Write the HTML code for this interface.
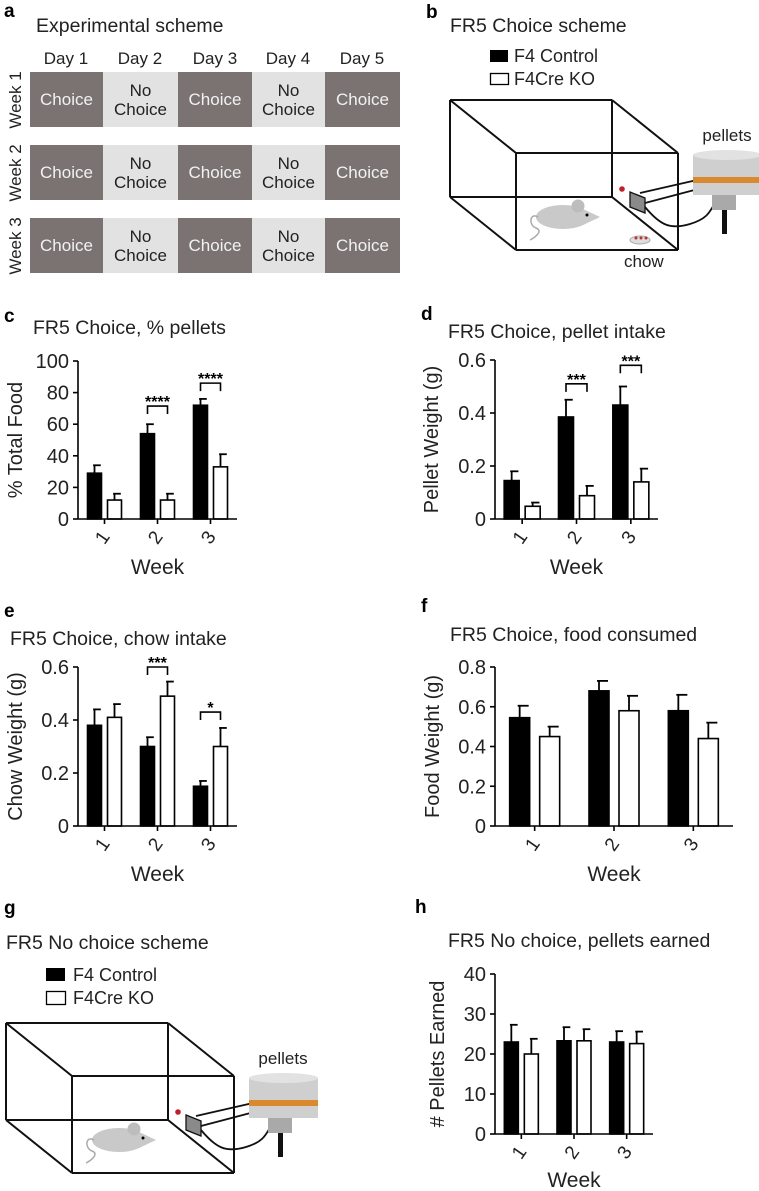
<!DOCTYPE html>
<html><head><meta charset="utf-8"><style>
html,body{margin:0;padding:0;background:#fff}
svg{display:block;font-family:"Liberation Sans",Arial,sans-serif}
</style></head><body>
<svg id="fig" width="759" height="1191" viewBox="0 0 759 1191">
<!-- Panel a -->
<g>
<text x="4" y="17" font-size="19" font-weight="bold">a</text>
<text x="36" y="32" font-size="19.5" fill="#222">Experimental scheme</text>
<g font-size="17" fill="#222" text-anchor="middle">
<text x="66" y="64">Day 1</text>
<text x="140" y="64">Day 2</text>
<text x="215" y="64">Day 3</text>
<text x="288" y="64">Day 4</text>
<text x="362" y="64">Day 5</text>
</g>
<g id="grid"></g>
</g>
<!-- Panel b -->
<g>
<text x="426" y="18" font-size="19" font-weight="bold">b</text>
<text x="450" y="32" font-size="19.5" fill="#222">FR5 Choice scheme</text>
<rect x="490" y="50" width="18" height="12" fill="#000"/>
<text x="514" y="62" font-size="18" fill="#222">F4 Control</text>
<rect x="490.5" y="73.5" width="18" height="11" fill="#fff" stroke="#000" stroke-width="1.3"/>
<text x="514" y="85" font-size="18" fill="#222">F4Cre KO</text>
<g id="boxB"></g>
<text x="624" y="267" font-size="17" fill="#222">chow</text>
</g>
<!-- Panel g -->
<g>
<text x="4" y="914" font-size="19" font-weight="bold">g</text>
<text x="6" y="949" font-size="19.5" fill="#222">FR5 No choice scheme</text>
<rect x="46" y="968" width="19" height="13" fill="#000"/>
<text x="73" y="981" font-size="18" fill="#222">F4 Control</text>
<rect x="46.5" y="991.5" width="19" height="13" fill="#fff" stroke="#000" stroke-width="1.3"/>
<text x="73" y="1004" font-size="18" fill="#222">F4Cre KO</text>
<g id="boxG"></g>
</g>
<g id="charts"></g>
</svg>
<script>
// ---- Chart data ----
const weeks = ["1","2","3"];
const cControl = [29, 54, 72];
const cControlErr = [34, 60, 76];
const cKO = [12, 12, 33];
const cKOErr = [16, 16, 41];
const cTicks = [0, 20, 40, 60, 80, 100];
const cSig = ["", "****", "****"];
const cSigLevel = [0, 71.5, 86];

const dControl = [0.145, 0.385, 0.43];
const dControlErr = [0.18, 0.45, 0.50];
const dKO = [0.048, 0.088, 0.14];
const dKOErr = [0.062, 0.125, 0.19];
const dTicks = [0, 0.2, 0.4, 0.6];
const dSig = ["", "***", "***"];
const dSigLevel = [0, 0.51, 0.58];

const eControl = [0.38, 0.30, 0.15];
const eControlErr = [0.44, 0.335, 0.17];
const eKO = [0.41, 0.49, 0.30];
const eKOErr = [0.46, 0.545, 0.37];
const eTicks = [0, 0.2, 0.4, 0.6];
const eSig = ["", "***", "*"];
const eSigLevel = [0, 0.6, 0.43];

const fControl = [0.545, 0.68, 0.58];
const fControlErr = [0.605, 0.73, 0.66];
const fKO = [0.45, 0.58, 0.44];
const fKOErr = [0.50, 0.655, 0.52];
const fTicks = [0, 0.2, 0.4, 0.6, 0.8];

const hControl = [23, 23.3, 23];
const hControlErr = [27.3, 26.7, 25.7];
const hKO = [20, 23.3, 22.6];
const hKOErr = [23.8, 26.2, 25.6];
const hTicks = [0, 10, 20, 30, 40];

const NS = "http://www.w3.org/2000/svg";
function mk(parent, tag, attrs, text) {
  const e = document.createElementNS(NS, tag);
  for (const k in attrs) e.setAttribute(k, attrs[k]);
  if (text !== undefined) e.textContent = text;
  parent.appendChild(e);
  return e;
}

// ---- Panel a grid ----
(function(){
  const g = document.getElementById("grid");
  const xs = [30,103,178,252,325,400];
  const ys = [72,145,218];
  ys.forEach((y, r) => {
    const wl = mk(g, "text", {x: 0, y: 0, "font-size": 17, fill: "#222", "text-anchor": "middle",
      transform: `translate(21,${y+28}) rotate(-90)`}, "Week " + (r+1));
    
    
    for (let c = 0; c < 5; c++) {
      const choice = c % 2 === 0;
      const rc = mk(g, "rect", {x: xs[c], y: y, width: xs[c+1]-xs[c], height: 55, fill: choice ? "#7a7372" : "#e3e2e2"});
      
      
      const cx = (xs[c]+xs[c+1])/2;
      if (choice) {
        const t = mk(g, "text", {x: cx, y: y+33, "font-size": 17, fill: "#f2f2f2", "text-anchor": "middle"}, "Choice");
        
        
      } else {
        const t1 = mk(g, "text", {x: cx, y: y+24, "font-size": 17, fill: "#222", "text-anchor": "middle"}, "No");
        
        
        const t2 = mk(g, "text", {x: cx, y: y+43, "font-size": 17, fill: "#222", "text-anchor": "middle"}, "Choice");
        
        
      }
    }
  });
})();

// ---- Operant boxes ----
function drawBox(gid, ox, oy, s, chow) {
  const g = document.getElementById(gid);
  const P = (x,y) => `${ox+x*s},${oy+y*s}`;
  const st = {fill:"none", stroke:"#111", "stroke-width": 2};
  const l = (a,b,c,d) => mk(g,"line",Object.assign({x1:ox+a*s,y1:oy+b*s,x2:ox+c*s,y2:oy+d*s},st));
  l(0,0,162,0); l(0,0,0,97); l(162,0,162,97); l(0,97,162,97);
  l(66,53,228,53); l(66,53,66,150); l(228,53,228,150); l(66,150,228,150);
  l(0,0,66,53); l(162,0,228,53); l(0,97,66,150); l(162,97,228,150);
  mk(g,"ellipse",{cx:ox+113*s,cy:oy+117*s,rx:27*s,ry:12*s,fill:"#c9c9c9"});
  mk(g,"path",{d:`M${P(133,109)} L${P(150,117)} L${P(133,125)} Z`,fill:"#c9c9c9"});
  mk(g,"circle",{cx:ox+128*s,cy:oy+106*s,r:6.5*s,fill:"#bdbdbd"});
  mk(g,"circle",{cx:ox+137*s,cy:oy+115*s,r:1.5,fill:"#000"});
  mk(g,"path",{d:`M${P(88,117)} C${P(80,112)} ${P(78,125)} ${P(86,128)} S${P(84,138)} ${P(80,140)}`,fill:"none",stroke:"#aaa","stroke-width":1.5});
  mk(g,"circle",{cx:ox+172*s,cy:oy+89*s,r:2.8,fill:"#c0202a"});
  mk(g,"path",{d:`M${P(180,92)} L${P(195,98)} L${P(195,113)} L${P(180,107)} Z`,fill:"#8a8a8a",stroke:"#111","stroke-width":1.3});
  mk(g,"line",{x1:ox+190*s,y1:oy+93*s,x2:ox+247*s,y2:oy+80*s,stroke:"#111","stroke-width":1.8});
  mk(g,"line",{x1:ox+195*s,y1:oy+103*s,x2:ox+252*s,y2:oy+88*s,stroke:"#111","stroke-width":1.8});
  mk(g,"path",{d:`M${P(195,107)} C${P(210,125)} ${P(220,130)} ${P(240,124)} S${P(260,110)} ${P(268,98)}`,fill:"none",stroke:"#111","stroke-width":1.8});
  mk(g,"rect",{x:ox+243*s,y:oy+55*s,width:69*s,height:40*s,fill:"#cfcfcf"});
  mk(g,"ellipse",{cx:ox+277.5*s,cy:oy+55*s,rx:34.5*s,ry:5*s,fill:"#e2e2e2"});
  mk(g,"rect",{x:ox+243*s,y:oy+77*s,width:69*s,height:6*s,fill:"#d98a2e"});
  mk(g,"rect",{x:ox+262*s,y:oy+95*s,width:24*s,height:15*s,fill:"#a9a9a9"});
  mk(g,"rect",{x:ox+272*s,y:oy+110*s,width:5*s,height:24*s,fill:"#111"});
  const pt = mk(g,"text",{x:ox+277*s,y:oy+41*s,"font-size":17,fill:"#222","text-anchor":"middle"},"pellets");
  
  
  if (chow) {
    mk(g,"ellipse",{cx:ox+190*s,cy:oy+140*s,rx:10,ry:4,fill:"#ddd",stroke:"#aaa"});
    mk(g,"circle",{cx:ox+186*s,cy:oy+138*s,r:1.5,fill:"#b33"});
    mk(g,"circle",{cx:ox+191*s,cy:oy+138*s,r:1.5,fill:"#b33"});
    mk(g,"circle",{cx:ox+196*s,cy:oy+138*s,r:1.5,fill:"#b33"});
  }
}
drawBox("boxB", 450, 100, 1, true);
drawBox("boxG", 6, 1023, 1, false);

// ---- Bar charts ----
function chart(o) {
  const g = mk(document.getElementById("charts"), "g", {});
  
  
  const y = v => o.y0 - (v / o.ymax) * (o.y0 - o.ytop);
  const band = (o.x1 - o.x0) / o.cats.length;
  const cx = i => o.x0 + (i + 0.5) * band;
  const lab = mk(g,"text",{x:o.lx,y:o.ly,"font-size":19,"font-weight":"bold"},o.letter);
  
  
  const tt = mk(g,"text",{x:o.tx,y:o.ty,"font-size":19.5,fill:"#222"},o.title);
  
  
  o.cats.forEach((c,i) => {
    const series = [[o.a,o.aErr,"#000"],[o.b,o.bErr,"#fff"]];
    series.forEach((s,k) => {
      const left = k===0 ? cx(i)-o.gap-o.bw : cx(i)+o.gap;
      const mid = left + o.bw/2;
      const el = mk(g,"line",{x1:mid,y1:y(s[0][i]),x2:mid,y2:y(s[1][i]),stroke:"#000","stroke-width":1.8});
      
      
      const cap = mk(g,"line",{x1:mid-o.bw*0.1,y1:y(s[1][i]),x2:mid+o.bw*0.45,y2:y(s[1][i]),stroke:"#000","stroke-width":1.8});
      
      
      const r = mk(g,"rect",{x:left,y:y(s[0][i]),width:o.bw,height:o.y0-y(s[0][i]),fill:s[2],stroke:"#000","stroke-width":1.6});
      
      
    });
    if (o.sig && o.sig[i]) {
      const l = cx(i)-o.gap-o.bw/2, rr = cx(i)+o.gap+o.bw/2, yy = y(o.sigLevel[i]);
      const br = mk(g,"path",{d:`M${l},${yy+8} L${l},${yy} L${rr},${yy} L${rr},${yy+8}`,fill:"none",stroke:"#000","stroke-width":1.6});
      
      
      const st = mk(g,"text",{x:(l+rr)/2,y:yy+1,"font-size":16,"text-anchor":"middle","font-weight":"bold"},o.sig[i]);
      
      
    }
  });
  const ya = mk(g,"line",{x1:o.x0,y1:o.ytop,x2:o.x0,y2:o.y0,stroke:"#000","stroke-width":1.6});
  
  
  const xa = mk(g,"line",{x1:o.x0,y1:o.y0,x2:o.x1,y2:o.y0,stroke:"#000","stroke-width":1.6});
  
  
  o.ticks.forEach(t => {
    mk(g,"line",{x1:o.x0-5,y1:y(t),x2:o.x0,y2:y(t),stroke:"#000","stroke-width":1.6});
    const tl = mk(g,"text",{x:o.x0-9,y:y(t)+7,"font-size":20,"text-anchor":"end",fill:"#222"},String(t));
    
    
  });
  o.cats.forEach((c,i) => {
    mk(g,"line",{x1:cx(i),y1:o.y0,x2:cx(i),y2:o.y0+5,stroke:"#000","stroke-width":1.6});
    const xl = mk(g,"text",{x:0,y:0,"font-size":19,"text-anchor":"middle",fill:"#222",
      transform:`translate(${cx(i)+3},${o.y0+22}) rotate(-55)`},c);
    
    
  });
  const xt = mk(g,"text",{x:(o.x0+o.x1)/2,y:o.wy,"font-size":21,"text-anchor":"middle",fill:"#222"},"Week");
  
  
  const yt = mk(g,"text",{x:0,y:0,"font-size":20,"text-anchor":"middle",fill:"#222",
    transform:`translate(${o.yx},${(o.ytop+o.y0)/2}) rotate(-90)`},o.ylabel);
  
  
}

chart({name:"chart-c-percent-pellets",letter:"c",lx:4,ly:322,tx:33,ty:334,title:"FR5 Choice, % pellets",
  x0:78,x1:237,y0:519,ytop:361,ymax:100,ticks:cTicks,cats:weeks,a:cControl,aErr:cControlErr,b:cKO,bErr:cKOErr,
  sig:cSig,sigLevel:cSigLevel,bw:14,gap:3,wy:574,yx:22,ylabel:"% Total Food"});
chart({name:"chart-d-pellet-intake",letter:"d",lx:421,ly:320,tx:448,ty:338,title:"FR5 Choice, pellet intake",
  x0:495,x1:658,y0:519,ytop:360,ymax:0.6,ticks:dTicks,cats:weeks,a:dControl,aErr:dControlErr,b:dKO,bErr:dKOErr,
  sig:dSig,sigLevel:dSigLevel,bw:15,gap:3,wy:574,yx:438,ylabel:"Pellet Weight (g)"});
chart({name:"chart-e-chow-intake",letter:"e",lx:4,ly:617,tx:10,ty:645,title:"FR5 Choice, chow intake",
  x0:78,x1:237,y0:826,ytop:667,ymax:0.6,ticks:eTicks,cats:weeks,a:eControl,aErr:eControlErr,b:eKO,bErr:eKOErr,
  sig:eSig,sigLevel:eSigLevel,bw:14,gap:3,wy:881,yx:22,ylabel:"Chow Weight (g)"});
chart({name:"chart-f-food-consumed",letter:"f",lx:421,ly:612,tx:450,ty:641,title:"FR5 Choice, food consumed",
  x0:495,x1:733,y0:826,ytop:667,ymax:0.8,ticks:fTicks,cats:weeks,a:fControl,aErr:fControlErr,b:fKO,bErr:fKOErr,
  bw:20,gap:5,wy:881,yx:439,ylabel:"Food Weight (g)"});
chart({name:"chart-h-pellets-earned",letter:"h",lx:415,ly:913,tx:448,ty:947,title:"FR5 No choice, pellets earned",
  x0:495,x1:653,y0:1134,ytop:974,ymax:40,ticks:hTicks,cats:weeks,a:hControl,aErr:hControlErr,b:hKO,bErr:hKOErr,
  bw:14,gap:3,wy:1187,yx:444,ylabel:"# Pellets Earned"});
</script>
</body></html>
